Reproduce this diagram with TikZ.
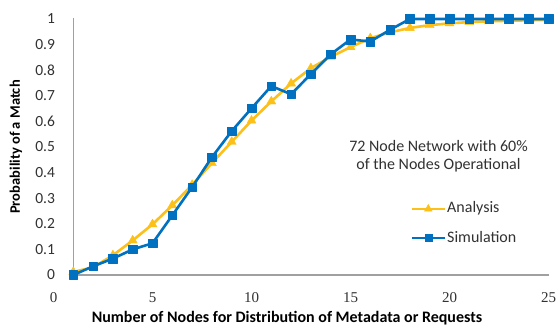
\documentclass[tikz,border=0pt]{standalone}
\usepackage{fontspec}
\setmainfont{Carlito}
\newfontfamily\numfont{Liberation Serif}
\usetikzlibrary{plotmarks}
\definecolor{ana}{RGB}{252,192,24}
\definecolor{sim}{RGB}{0,112,192}
\definecolor{axisgray}{RGB}{160,160,160}
\definecolor{ticktext}{RGB}{50,50,50}
\tikzset{
  anaLine/.style={ana, line width=2.6pt, line join=round},
  simLine/.style={sim, line width=2.6pt, line join=round},
  anaMark/.style={mark=triangle*, mark size=5.2pt, mark options={ana, fill=ana, solid, line width=0.4pt}},
  simMark/.style={mark=square*, mark size=4.3pt, mark options={sim, fill=sim, solid, line width=0.4pt}},
  ytick/.style={anchor=east, text=ticktext, font=\fontsize{15.5pt}{18pt}\selectfont},
  xtick/.style={text=ticktext, font=\numfont\fontsize{15pt}{18pt}\selectfont},
  axtitle/.style={font=\bfseries\fontsize{16pt}{18pt}\selectfont},
  plain/.style={font=\fontsize{16pt}{18pt}\selectfont, text=ticktext}
}
\begin{document}
\begin{tikzpicture}[x=1pt,y=1pt]
\useasboundingbox (0,0) rectangle (556,329);
\fill[white] (0,0) rectangle (556,329);
% axes
\coordinate (ytop) at (73.3,311);
\coordinate (orig) at (73.3,54);
\coordinate (xend) at (549,54);
\draw[axisgray, line width=1.3pt] (ytop) -- (orig) -- (xend);
% y tick labels
\foreach \v/\t [count=\i] in {0/0,0.1/0.1,0.2/0.2,0.3/0.3,0.4/0.4,0.5/0.5,0.6/0.6,0.7/0.7,0.8/0.8,0.9/0.9,1/1}
  \node[ytick] (yl\i) at (58.5,54+256*\v) {\t};
% x tick labels
\foreach \k [count=\i] in {0,5,10,15,20,25}
  \node[xtick] (xl\i) at (53.5+19.8*\k,31) {\k};
% axis titles
\node[axtitle] (xtitle) at (287,11) {Number of Nodes for Distribution of Metadata or Requests};
\node[axtitle, rotate=90, font=\bfseries\fontsize{14.5pt}{18pt}\selectfont] (ytitle) at (16,182) {Probability of a Match};
% data
\begin{scope}[shift={(53.5pt,54pt)}, x=19.8pt, y=256pt]
\draw[anaLine] plot[anaMark] coordinates {
 (1,0.012) (2,0.03) (3,0.077) (4,0.135) (5,0.198) (6,0.272) (7,0.352) (8,0.437)
 (9,0.52) (10,0.603) (11,0.678) (12,0.748) (13,0.808) (14,0.852) (15,0.89)
 (16,0.925) (17,0.948) (18,0.965) (19,0.976) (20,0.983) (21,0.988) (22,0.991)
 (23,0.993) (24,0.995) (25,0.996)};
\draw[simLine] plot[simMark] coordinates {
 (1,0) (2,0.034) (3,0.064) (4,0.10) (5,0.124) (6,0.233) (7,0.343) (8,0.46)
 (9,0.562) (10,0.651) (11,0.738) (12,0.706) (13,0.785) (14,0.862) (15,0.92)
 (16,0.912) (17,0.958) (18,1) (19,1) (20,1) (21,1) (22,1) (23,1) (24,1) (25,1)};
\end{scope}
% annotation
\node[plain, align=center] (note) at (438.5,173) {72 Node Network with 60\%\\of the Nodes Operational};
% legend
\coordinate (la1) at (411.7,120);
\coordinate (la2) at (445,120);
\coordinate (lam) at (428.3,120);
\draw[anaLine, line width=2.4pt] (la1) -- (la2);
\draw plot[anaMark, mark size=4.5pt] coordinates {(lam)};
\node[plain, anchor=west, inner sep=1pt] (lta) at (446,120.5) {Analysis};
\coordinate (ls1) at (411.7,91);
\coordinate (ls2) at (445,91);
\coordinate (lsm) at (428.3,91);
\draw[simLine, line width=2.4pt] (ls1) -- (ls2);
\draw plot[simMark, mark size=3.6pt] coordinates {(lsm)};
\node[plain, anchor=west, inner sep=1pt] (lts) at (446,91.5) {Simulation};
\end{tikzpicture}
\end{document}
